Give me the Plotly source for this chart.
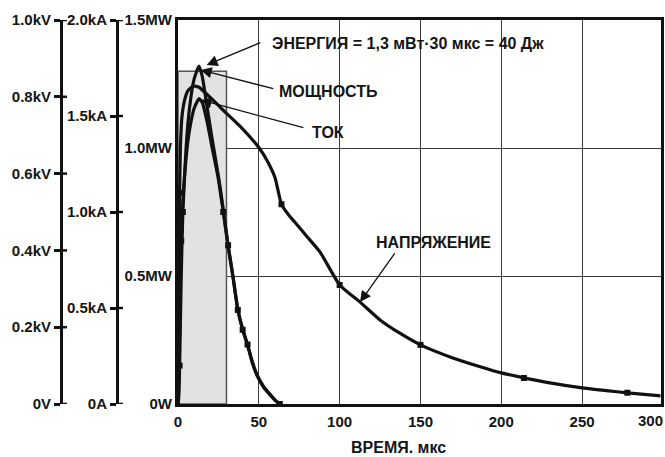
import plotly.graph_objects as go

# Time axis (microseconds) and sampled waveforms
t_v = [0, 0.3, 0.7, 1.0, 1.5, 2.5, 4, 6, 9.5, 13, 17, 22, 28, 33, 38, 44, 50, 55, 60, 64,
       68, 73, 80, 88, 100, 113, 125, 137, 150, 170, 187, 200, 214, 230, 250, 265, 278, 299]
v_kv = [0, 0.15, 0.40, 0.55, 0.67, 0.75, 0.79, 0.815, 0.828, 0.825, 0.81, 0.79, 0.765, 0.745,
        0.725, 0.698, 0.668, 0.635, 0.59, 0.52, 0.495, 0.470, 0.435, 0.395, 0.31, 0.264, 0.219,
        0.185, 0.154, 0.12, 0.097, 0.081, 0.068, 0.055, 0.042, 0.035, 0.029, 0.021]

t_i = [0, 0.5, 1, 2, 3, 5, 7, 10, 13, 15, 18, 21, 25, 28, 31, 34, 37, 40, 43, 46, 49, 53, 57, 60, 63]
i_ka = [0, 0.12, 0.40, 0.85, 1.05, 1.28, 1.42, 1.54, 1.59, 1.57, 1.47, 1.34, 1.17, 1.0, 0.82,
        0.66, 0.49, 0.39, 0.31, 0.22, 0.15, 0.09, 0.05, 0.02, 0]

t_p = [0, 0.5, 1, 2, 3, 5, 7, 10, 13, 15, 18, 21, 25, 28, 31, 34, 37, 40, 43, 46, 49, 53, 57, 60, 63]
p_mw = [0, 0.03, 0.15, 0.5, 0.75, 1.0, 1.15, 1.27, 1.32, 1.28, 1.16, 1.04, 0.89, 0.76, 0.62,
        0.50, 0.37, 0.29, 0.23, 0.16, 0.11, 0.065, 0.035, 0.015, 0]

# Sample points marked on each waveform
v_marks = [1.0, 64, 100, 150, 214, 278]
i_marks = [2, 28, 37, 43]
p_marks = [1, 3, 31, 40, 63]

# Energy estimate rectangle: peak power x duration
e_power = 1.3
e_time = 30

x_ticks = [0, 50, 100, 150, 200, 250, 300]
mw_ticks = [0, 0.5, 1.0, 1.5]
mw_text = ["0W", "0.5MW", "1.0MW", "1.5MW"]
ka_ticks = [0, 0.5, 1.0, 1.5, 2.0]
ka_text = ["0A", "0.5kA", "1.0kA", "1.5kA", "2.0kA"]
kv_ticks = [0, 0.2, 0.4, 0.6, 0.8, 1.0]
kv_text = ["0V", "0.2kV", "0.4kV", "0.6kV", "0.8kV", "1.0kV"]

W, H = 665, 457
FAMILY = "Liberation Sans, Arial, sans-serif"
FONT = dict(family=FAMILY, size=15, color="#151515", weight="bold")
FONT_L = dict(family=FAMILY, size=16, color="#151515", weight="bold")
INK = "#111111"


def pick(ts, vs, marks):
    xs, ys = [], []
    for m in marks:
        k = ts.index(m)
        xs.append(ts[k])
        ys.append(vs[k])
    return xs, ys


fig = go.Figure()

fig.add_trace(go.Scatter(
    x=[0, 0, e_time, e_time, 0], y=[0, e_power, e_power, 0, 0], yaxis="y",
    mode="lines", fill="toself", fillcolor="#e2e2e2",
    line=dict(color="#555555", width=1.5), hoverinfo="skip", showlegend=False))

line_style = dict(color=INK, width=3.2, shape="spline", smoothing=0.5)
fig.add_trace(go.Scatter(x=t_v, y=v_kv, yaxis="y3", mode="lines", line=line_style,
                         name="НАПРЯЖЕНИЕ", showlegend=False))
fig.add_trace(go.Scatter(x=t_i, y=i_ka, yaxis="y2", mode="lines", line=line_style,
                         name="ТОК", showlegend=False))
fig.add_trace(go.Scatter(x=t_p, y=p_mw, yaxis="y", mode="lines", line=line_style,
                         name="МОЩНОСТЬ", showlegend=False))

for ts, vs, marks, ax in [(t_v, v_kv, v_marks, "y3"), (t_i, i_ka, i_marks, "y2"),
                          (t_p, p_mw, p_marks, "y")]:
    mx, my = pick(ts, vs, marks)
    fig.add_trace(go.Scatter(x=mx, y=my, yaxis=ax, mode="markers",
                             marker=dict(symbol="square", size=6, color=INK),
                             hoverinfo="skip", showlegend=False))

dom_y = [1 - 404 / H, 1 - 20 / H]
x0p, x1p = 178 / W, 660.5 / W
kv_pos, ka_pos = 61 / W, 117 / W

fig.update_layout(
    width=W, height=H, margin=dict(l=0, r=0, t=0, b=0),
    paper_bgcolor="white", plot_bgcolor="white", font=FONT, showlegend=False,
    xaxis=dict(domain=[x0p, x1p], range=[0, 298.5], tickvals=x_ticks[:-1],
               showgrid=True, gridcolor="#3a3a3a", gridwidth=1.4, zeroline=False,
               showline=True, linecolor=INK, linewidth=3, mirror=True, ticks="",
               tickfont=FONT, automargin=False, fixedrange=True, ticklabelstandoff=2),
    yaxis=dict(domain=dom_y, range=[0, 1.5], tickvals=mw_ticks, ticktext=mw_text,
               showgrid=True, gridcolor="#3a3a3a", gridwidth=1.4, zeroline=False,
               showline=True, linecolor=INK, linewidth=3, mirror=True, ticks="",
               tickfont=FONT, automargin=False, ticklabelstandoff=0),
    yaxis2=dict(overlaying="y", anchor="free", position=ka_pos, side="left",
                range=[0, 2.0], tickvals=ka_ticks, ticktext=ka_text,
                showgrid=False, zeroline=False, showline=True, linecolor=INK, linewidth=3,
                ticks="outside", ticklen=6, tickwidth=2.5, tickcolor=INK,
                tickfont=FONT, automargin=False),
    yaxis3=dict(overlaying="y", anchor="free", position=kv_pos, side="left",
                range=[0, 1.0], tickvals=kv_ticks, ticktext=kv_text,
                showgrid=False, zeroline=False, showline=True, linecolor=INK, linewidth=3,
                ticks="outside", ticklen=6, tickwidth=2.5, tickcolor=INK,
                tickfont=FONT, automargin=False),
)

# Right halves of the crossing tick marks on the two free axes
shapes = []
for v in ka_ticks:
    shapes.append(dict(type="line", xref="paper", yref="y2", x0=ka_pos, x1=ka_pos + 6 / W,
                       y0=v, y1=v, line=dict(color=INK, width=2.5)))
for v in kv_ticks:
    shapes.append(dict(type="line", xref="paper", yref="y3", x0=kv_pos, x1=kv_pos + 6 / W,
                       y0=v, y1=v, line=dict(color=INK, width=2.5)))
fig.update_layout(shapes=shapes)

ann = []
# last time tick label, pulled inside the page
ann.append(dict(x=650 / W, xref="paper", y=1 - 420 / H, yref="paper", text=str(x_ticks[-1]),
                showarrow=False, xanchor="center", yanchor="middle", font=FONT))
ann.append(dict(x=398 / W, xref="paper", y=1 - 447 / H, yref="paper", text="ВРЕМЯ. мкс",
                showarrow=False, xanchor="center", yanchor="middle", font=FONT_L))

labels = [
    ("ЭНЕРГИЯ = 1,3 мВт·30 мкс = 40 Дж", 142, 1.41),
    ("МОЩНОСТЬ", 93, 1.219),
    ("ТОК", 92.5, 1.0625),
    ("НАПРЯЖЕНИЕ", 158, 0.629),
]
for txt, x, y in labels:
    ann.append(dict(x=x, y=y, xref="x", yref="y", text=txt, showarrow=False,
                    xanchor="center", yanchor="middle", font=FONT_L))

arrows = [
    (17.7, 1.324, 51.9, 1.414),
    (14.0, 1.305, 59.9, 1.230),
    (14.0, 1.1875, 78.5, 1.078),
    (112.6, 0.398, 134.7, 0.594),
]
for xt, yt, xa, ya in arrows:
    ann.append(dict(x=xt, y=yt, xref="x", yref="y", ax=xa, ay=ya, axref="x", ayref="y",
                    text="", showarrow=True, arrowhead=2, arrowsize=1.7, arrowwidth=1.3,
                    arrowcolor=INK, standoff=0))
fig.update_layout(annotations=ann)

fig.write_html("out.html")
